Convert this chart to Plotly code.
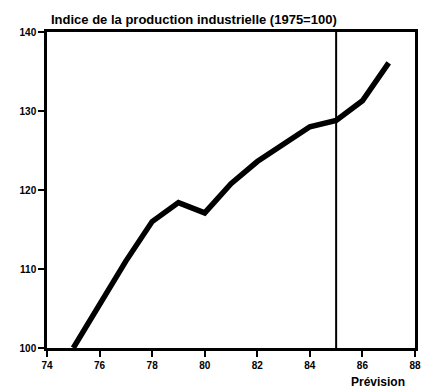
import plotly.graph_objects as go

years = [75, 76, 77, 78, 79, 80, 81, 82, 83, 84, 85, 86, 87]
index_values = [100, 105.5, 111, 116, 118.4, 117.1, 120.8, 123.6, 125.8, 128.0, 128.8, 131.3, 136.1]
x_ticks = [74, 76, 78, 80, 82, 84, 86, 88]
y_ticks = [100, 110, 120, 130, 140]
forecast_start = 85
title_text = "Indice de la production industrielle (1975=100)"
forecast_label = "Prévision"

FONT = "Liberation Sans, Arial, sans-serif"

fig = go.Figure()
fig.add_trace(go.Scatter(
    x=years, y=index_values, mode="lines",
    line=dict(color="black", width=5.5),
    hoverinfo="skip", showlegend=False,
))

fig.add_shape(type="line", xref="x", yref="paper",
              x0=forecast_start, x1=forecast_start, y0=0, y1=1,
              line=dict(color="black", width=2))

fig.add_annotation(text=title_text, xref="paper", yref="paper",
                   x=0.005, y=1.0, xanchor="left", yanchor="bottom", yshift=3,
                   showarrow=False,
                   font=dict(family=FONT, size=13, color="black", weight="bold"))
fig.add_annotation(text=forecast_label, xref="x", yref="paper",
                   x=86.6, y=0, xanchor="center", yanchor="top", yshift=-25,
                   showarrow=False,
                   font=dict(family=FONT, size=12, color="black", weight="bold"))

axis_common = dict(
    showline=True, linecolor="black", linewidth=2.5, mirror=True,
    ticks="outside", ticklen=6, tickwidth=2, tickcolor="black",
    showgrid=False, zeroline=False,
    tickfont=dict(family=FONT, size=10, color="black", weight="bold"),
)

fig.update_xaxes(range=[74, 88], tickvals=x_ticks,
                 ticktext=[str(v) for v in x_ticks], **axis_common)
fig.update_yaxes(range=[100, 140], tickvals=y_ticks,
                 ticktext=[str(v) for v in y_ticks], **axis_common)

fig.update_layout(
    width=425, height=381,
    margin=dict(l=37, r=18, t=24, b=41),
    paper_bgcolor="white", plot_bgcolor="white",
)

fig.write_html("out.html")
